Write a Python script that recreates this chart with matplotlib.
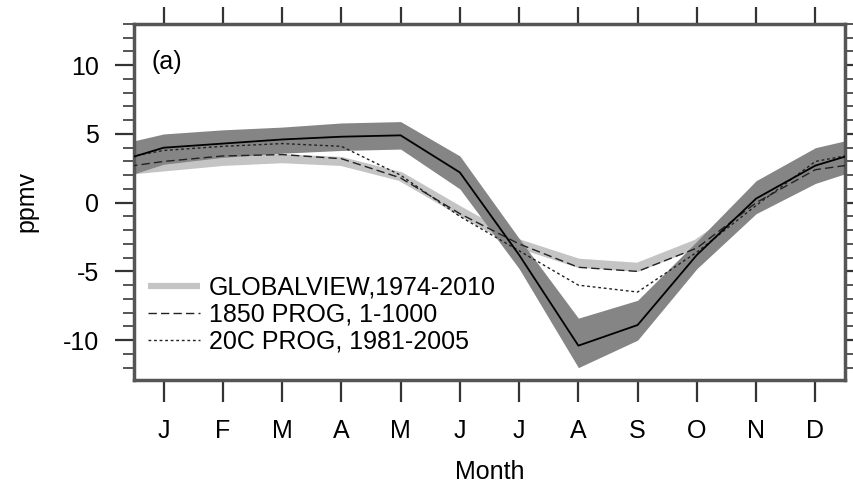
"""Seasonal cycle of CO2 anomaly, observations vs. model runs."""

import matplotlib.pyplot as plt
import numpy as np
from matplotlib.ticker import MultipleLocator

plt.rcParams["font.family"] = ["Liberation Sans", "DejaVu Sans"]
plt.rcParams["axes.unicode_minus"] = False

months = ["J", "F", "M", "A", "M", "J", "J", "A", "S", "O", "N", "D"]

# model mean with its spread (unlabelled band)
model_mean = [4.0, 4.3, 4.6, 4.8, 4.9, 2.2, -3.8, -10.4, -8.9, -3.8, 0.3, 2.7]
model_hi = [5.0, 5.3, 5.5, 5.8, 5.9, 3.4, -2.6, -8.4, -7.1, -2.8, 1.6, 4.0]
model_lo = [2.8, 3.3, 3.6, 3.8, 3.9, 1.0, -4.8, -12.0, -10.0, -4.8, -0.8, 1.4]

globalview = [2.6, 3.0, 3.2, 3.0, 1.9, -0.6, -3.0, -4.4, -4.7, -3.0, 0.0, 2.2]
prog_1850 = [3.0, 3.4, 3.5, 3.2, 1.8, -0.8, -3.0, -4.7, -5.0, -3.3, 0.0, 2.4]
prog_20c = [3.8, 4.1, 4.3, 4.1, 2.0, -1.0, -3.5, -6.0, -6.5, -3.6, -0.2, 3.0]

labels = ["GLOBALVIEW,1974-2010", "1850 PROG, 1-1000", "20C PROG, 1981-2005"]


def wrap(values):
    """Repeat Dec before Jan and Jan after Dec so the cycle runs to the frame."""
    v = np.asarray(values, dtype=float)
    return np.concatenate([v[-1:], v, v[:1]])


x = np.arange(0, 14)

fig = plt.figure(figsize=(8.54, 4.84), dpi=100)
ax = fig.add_axes([134 / 854, 104 / 484, 711 / 854, 356 / 484])

ax.fill_between(x, wrap(model_lo), wrap(model_hi), color="#858585", lw=0, zorder=2)
ax.plot(x, wrap(globalview), color="#c4c4c4", lw=6.5, zorder=1,
        solid_capstyle="butt", label=labels[0])
ax.plot(x, wrap(prog_1850), color="#222222", lw=1.0, ls=(0, (6, 3)), zorder=3,
        label=labels[1])
ax.plot(x, wrap(prog_20c), color="#222222", lw=1.0, ls=(0, (2, 2)), zorder=3,
        label=labels[2])
ax.plot(x, wrap(model_mean), color="black", lw=1.3, zorder=4)

ax.set_xlim(0.5, 12.5)
ax.set_ylim(-12.9, 13)
ax.set_xticks(np.arange(1, 13))
ax.set_xticklabels(months)
ax.yaxis.set_major_locator(MultipleLocator(5))
ax.yaxis.set_minor_locator(MultipleLocator(1))

for side in ax.spines.values():
    side.set_linewidth(2.5)
    side.set_color("#555555")

ax.tick_params(axis="x", which="major", direction="out", top=True, bottom=True,
               length=16, width=1.6, color="#333333", labelsize=18, pad=12)
ax.tick_params(axis="y", which="major", direction="out", left=True, right=True,
               length=14, width=1.6, color="#333333", labelsize=18, pad=11)
ax.tick_params(axis="y", which="minor", direction="out", left=True, right=True,
               length=8, width=1.4, color="#555555")

# top ticks are a little shorter than the bottom ones
for t in ax.xaxis.get_major_ticks():
    t.tick2line.set_markersize(12.5)

ax.set_xlabel("Month", fontsize=18, labelpad=12)
ax.set_ylabel("ppmv", fontsize=18, labelpad=18)

ax.text(0.025, 0.893, "(a)", transform=ax.transAxes, fontsize=18, va="center")

leg = ax.legend(loc="lower left", bbox_to_anchor=(0.005, 0.045), frameon=False,
                fontsize=18, handlelength=2.1, handletextpad=0.35,
                labelspacing=0.12, borderaxespad=0)
leg.get_lines()[0].set_linewidth(4.5)

fig.savefig("out.png", dpi=100)
plt.close(fig)
